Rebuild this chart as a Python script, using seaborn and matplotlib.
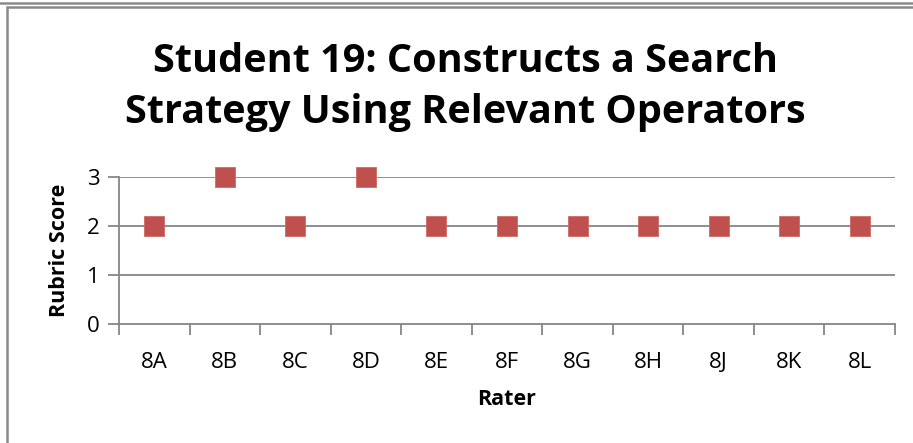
import matplotlib.pyplot as plt
import pandas as pd
import seaborn as sns
from matplotlib.patches import Rectangle

# data
raters = ["8A", "8B", "8C", "8D", "8E", "8F", "8G", "8H", "8J", "8K", "8L"]
scores = [2, 3, 2, 3, 2, 2, 2, 2, 2, 2, 2]

df = pd.DataFrame({"Rater": raters, "Rubric Score": scores})

sns.set_style("white")
plt.rcParams['font.family'] = ['Open Sans', 'DejaVu Sans']
plt.rcParams['text.color'] = 'black'

fig = plt.figure(figsize=(9.13, 4.43), dpi=100)
ax = fig.add_axes([119/913, 1 - 324/443, (895 - 119)/913, (324 - 177)/443])

grid_c = "#868686"
for y in [1, 2, 3]:
    ax.axhline(y, color=grid_c, lw=1.3, zorder=0)

sns.scatterplot(data=df, x="Rater", y="Rubric Score", marker="s", s=15**2,
                color="#C0504D", edgecolor="#D06A66", linewidth=0.6, ax=ax,
                zorder=3, clip_on=False)

ax.set_xlim(-0.5, len(raters) - 0.5)
ax.set_ylim(0, 3)
ax.set_yticks([0, 1, 2, 3])
ax.set_xticks(range(len(raters)))
ax.set_xticklabels(raters)
ax.set_xticks([i - 0.5 for i in range(len(raters) + 1)], minor=True)

for side in ["top", "right"]:
    ax.spines[side].set_visible(False)
for side in ["left", "bottom"]:
    ax.spines[side].set_color(grid_c)
    ax.spines[side].set_linewidth(1.3)

ax.tick_params(axis="x", which="major", bottom=True, length=0, labelsize=16, pad=20, colors="black")
ax.tick_params(axis="x", which="minor", bottom=True, length=8, width=1.3, color=grid_c, direction="out")
ax.tick_params(axis="y", left=True, length=8, width=1.3, color=grid_c, direction="out",
               labelsize=16, pad=6, labelcolor="black")
ax.set_xlabel("Rater", fontsize=15.5, fontweight="bold", labelpad=12, color="black")
ax.set_ylabel("Rubric Score", fontsize=15.5, fontweight="bold", labelpad=12, color="black")

fig.text(0.51, 1 - 62/443, "Student 19: Constructs a Search", ha="center", va="center",
         fontsize=28.5, fontweight="bold", color="black")
fig.text(0.51, 1 - 113/443, "Strategy Using Relevant Operators", ha="center", va="center",
         fontsize=28.5, fontweight="bold", color="black")

# outer frame
fig.patches.append(Rectangle((7/913, -0.05), 1.1, 1 - 7/443 + 0.05, transform=fig.transFigure,
                             fill=False, edgecolor="#8a8a8a", lw=1.8))
fig.lines.append(plt.Line2D([0, 1], [1 - 2.5/443, 1 - 2.5/443], transform=fig.transFigure,
                            color="#8a8a8a", lw=1.8))

fig.savefig("out.png", dpi=100)
